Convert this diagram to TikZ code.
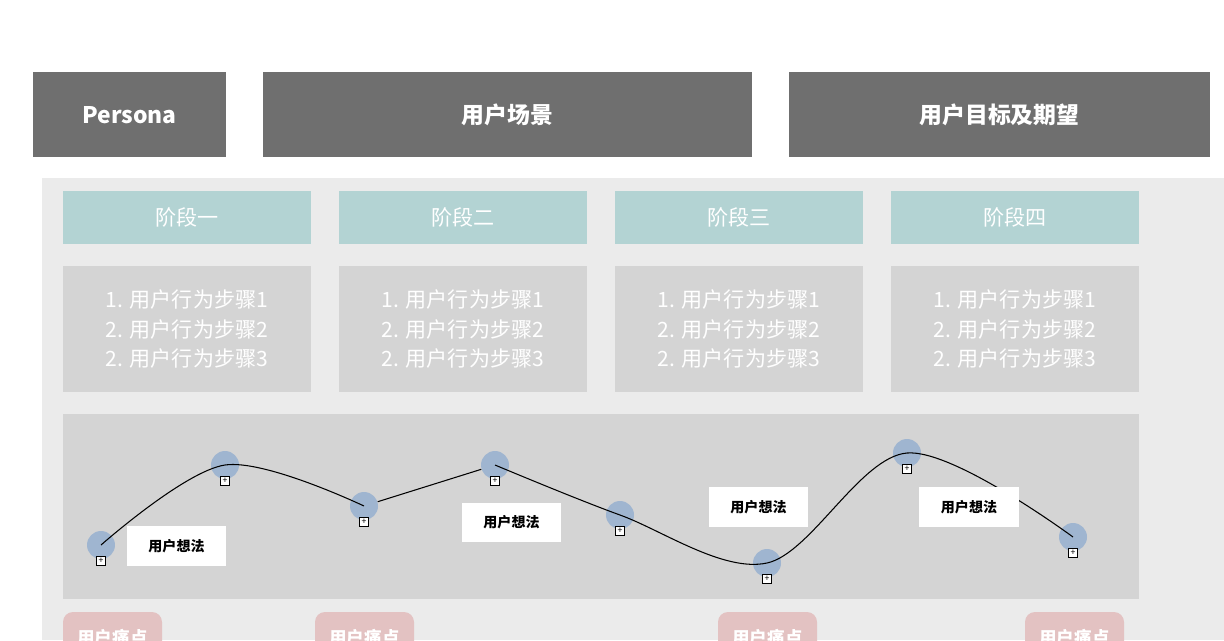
\documentclass[tikz,border=0pt]{standalone}
\usepackage{fontspec}
\setmainfont{Noto Sans CJK SC}
\usepackage{tikz}
\usetikzlibrary{positioning}
\definecolor{headgray}{HTML}{6F6F6F}
\definecolor{panelgray}{HTML}{EBEBEB}
\definecolor{boxgray}{HTML}{D4D4D4}
\definecolor{stageteal}{HTML}{B3D3D3}
\definecolor{dotblue}{HTML}{9FB5D0}
\definecolor{painpink}{HTML}{E3C2C2}
\tikzset{
  headbox/.style={fill=headgray,text=white,font=\bfseries\fontsize{13}{15}\selectfont},
  stagebox/.style={fill=stageteal,text=white,font=\fontsize{12}{14}\selectfont},
  stepbox/.style={fill=boxgray,text=white,font=\fontsize{12}{17}\selectfont,align=center},
  thought/.style={fill=white,font=\bfseries\fontsize{8}{10}\selectfont},
  dot/.style={circle,fill=dotblue,minimum size=0.56cm,inner sep=0pt},
  plusbox/.style={draw=black,fill=white,line width=0.4pt,minimum size=0.17cm,inner sep=0pt},
  pain/.style={fill=painpink,rounded corners=0.2cm,text=white,font=\bfseries\fontsize{10}{12}\selectfont}
}
\begin{document}
\begin{tikzpicture}[x=0.02cm,y=-0.02cm]
\useasboundingbox (0,0) rectangle (1224,640);
\clip (0,0) rectangle (1224,640);
\fill[white] (0,0) rectangle (1224,640);
% headers
\fill[headbox] (33,72) rectangle (226,157);
\fill[headbox] (263,72) rectangle (752,157);
\fill[headbox] (789,72) rectangle (1210,157);
\node[headbox,fill=none] (persona) at (129.5,115) {Persona};
\node[headbox,fill=none] (scene) at (507.5,115) {用户场景};
\node[headbox,fill=none] (goal) at (999.5,115) {用户目标及期望};
\fill[panelgray] (42,178) rectangle (1224,640);
% stages
\foreach \x/\name in {63/一,339/二,615/三,891/四}{
  \fill[stageteal] (\x,191) rectangle ++(248,53);
  \node[stagebox,fill=none] at (\x+124,217.5) {阶段\name};
  \fill[boxgray] (\x,266) rectangle ++(248,126);
  \node[stepbox,fill=none] at (\x+124,329) {1. 用户行为步骤1\\2. 用户行为步骤2\\2. 用户行为步骤3};
}
% journey
\fill[boxgray] (63,414) rectangle (1139,599);
\node[dot] (d1) at (101,545) {};
\node[dot] (d2) at (225,465) {};
\node[dot] (d3) at (364,506) {};
\node[dot] (d4) at (495,465) {};
\node[dot] (d5) at (620,515) {};
\node[dot] (d6) at (767,563) {};
\node[dot] (d7) at (907,453) {};
\node[dot] (d8) at (1073,537) {};
\draw[line width=0.6pt] plot[smooth,tension=0.55] coordinates{(d1) (d2) (d3)};
\draw[line width=0.6pt] (d3) -- (d4);
\draw[line width=0.6pt] plot[smooth,tension=0.55] coordinates{(d4) (d5) (d6) (d7) (d8)};
\foreach \d in {1,...,8}{
  \node[plusbox] at ([yshift=-0.32cm]d\d) {\tiny +};
}
\node[thought,minimum width=1.98cm,minimum height=0.8cm] (t1) at (176.5,546) {用户想法};
\node[thought,minimum width=1.98cm,minimum height=0.78cm] (t2) at (511.5,522.5) {用户想法};
\node[thought,minimum width=1.98cm,minimum height=0.8cm] (t3) at (758.5,507) {用户想法};
\node[thought,minimum width=2cm,minimum height=0.8cm] (t4) at (969,507) {用户想法};
% pain points
\foreach \x in {63,315,718,1025}{
  \fill[painpink,rounded corners=0.2cm] (\x,612) rectangle ++(99,50);
  \node[pain,fill=none] at (\x+49.5,638) {用户痛点};
}
\end{tikzpicture}
\end{document}
